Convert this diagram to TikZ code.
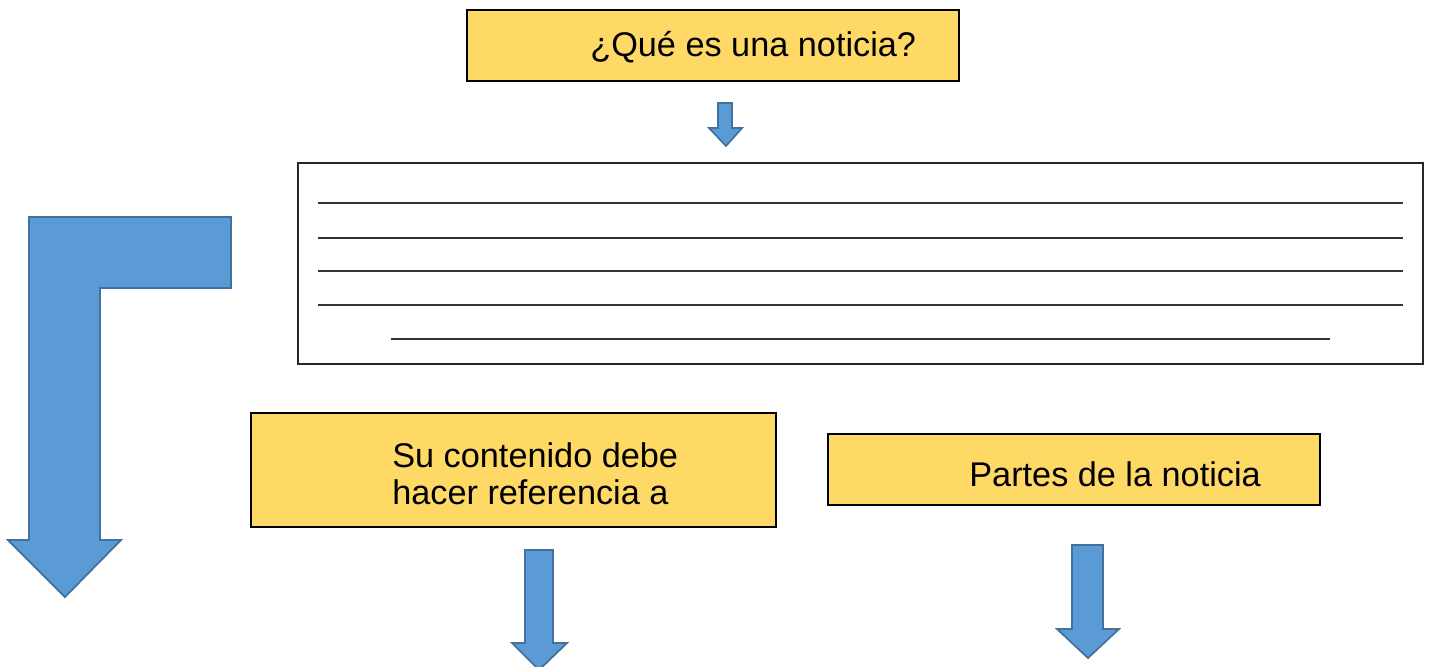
\documentclass[tikz,border=0pt]{standalone}
\usepackage{fontspec}
\setmainfont{Liberation Sans}
\usetikzlibrary{positioning}
\definecolor{notayellow}{HTML}{FFD966}
\definecolor{flechablue}{HTML}{5B9BD5}
\definecolor{flechaedge}{HTML}{41719C}
\tikzset{
  cuadro/.style={draw=black, fill=notayellow, line width=0.8pt, inner sep=0pt},
  marco/.style={draw=black!85, fill=white, line width=0.8pt, inner sep=0pt},
  flecha/.style={draw=flechaedge, fill=flechablue, line width=1pt, line join=miter},
  renglon/.style={draw=black!80, line width=1pt},
  texto/.style={font=\fontsize{19.5}{21}\selectfont, inner sep=0pt, align=left}
}
\begin{document}
\begin{tikzpicture}[x=0.02cm, y=-0.02cm]
\useasboundingbox (0,0) rectangle (1429,666);
% boxes
\node[cuadro, minimum width=9.84cm, minimum height=1.42cm] (pregunta) at (713,45.5) {};
\node[texto, anchor=west] (preguntatxt) at (590,47) {¿Qué es una noticia?};
\node[marco, minimum width=22.5cm, minimum height=4.02cm] (respuesta) at (860.5,263.5) {};
\node[cuadro, minimum width=10.5cm, minimum height=2.28cm] (contenido) at (513.5,470) {};
\node[texto, anchor=west] (contenidotxt) at (392,474) {Su contenido debe\\hacer referencia a};
\node[cuadro, minimum width=9.84cm, minimum height=1.42cm] (partes) at (1074,469.5) {};
\node[texto, anchor=west] (partestxt) at (969,474) {Partes de la noticia};
% lines to write on
\foreach \y in {203,238,271,305}
  \draw[renglon] (318,\y) -- (1403,\y);
\draw[renglon] (391,339) -- (1330,339);
% block arrows
\draw[flecha] (718,103) -- (732,103) -- (732,128) -- (742,128) -- (726,146) -- (709,128) -- (718,128) -- cycle;
\draw[flecha] (29,217) -- (231,217) -- (231,288) -- (100,288) -- (100,540) -- (121,540)
  -- (65,597) -- (8,540) -- (29,540) -- cycle;
\draw[flecha] (525,550) -- (553,550) -- (553,643) -- (567,643) -- (539,670) -- (512,643) -- (525,643) -- cycle;
\draw[flecha] (1072,545) -- (1103,545) -- (1103,629) -- (1119,629) -- (1088,658) -- (1057,629) -- (1072,629) -- cycle;
\end{tikzpicture}
\end{document}
